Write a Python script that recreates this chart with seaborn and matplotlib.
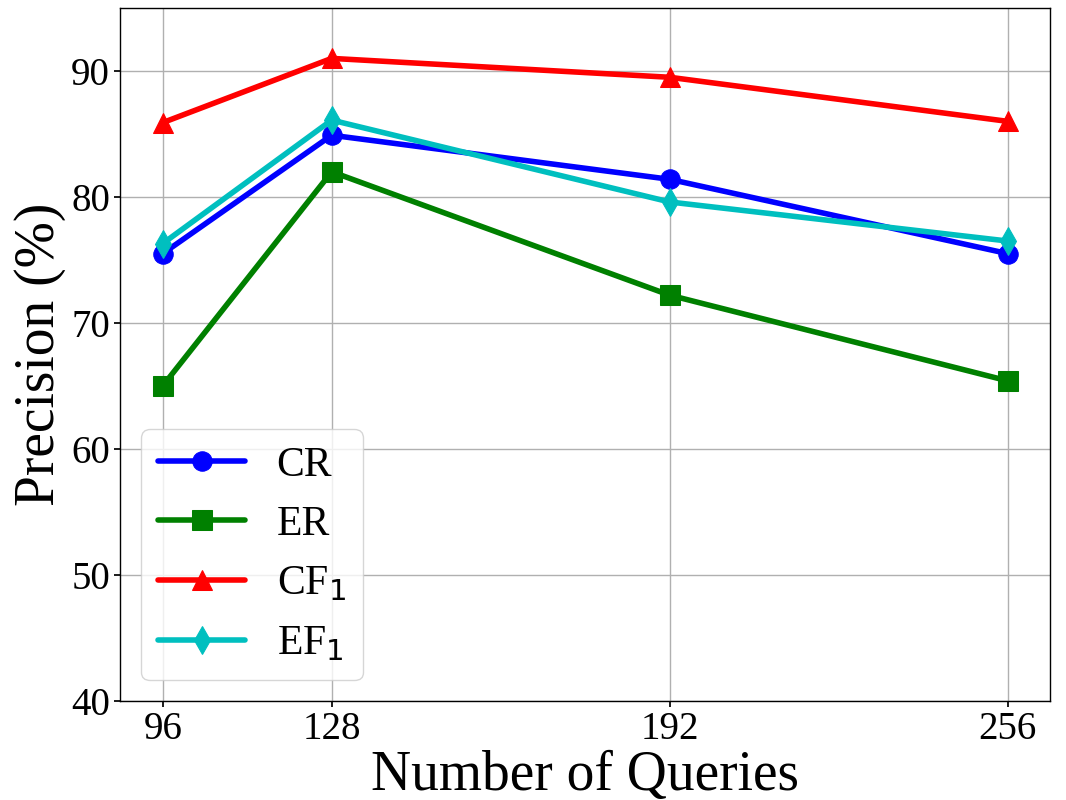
import matplotlib
matplotlib.use("Agg")
import matplotlib.pyplot as plt
import numpy as np
import pandas as pd
import seaborn as sns

queries = [96, 128, 192, 256]
cr = [75.5, 84.9, 81.4, 75.5]
er = [65.0, 82.0, 72.2, 65.4]
cf1 = [85.9, 91.0, 89.5, 86.0]
ef1 = [76.3, 86.1, 79.6, 76.5]

series = [
    ("CR", cr, "#0000ff", "o"),
    ("ER", er, "#008000", "s"),
    (r"CF$_1$", cf1, "#ff0000", "^"),
    (r"EF$_1$", ef1, "#00bfbf", "d"),
]

sns.set_theme(style="ticks", context="notebook")
plt.rcParams["font.family"] = ["Liberation Serif", "DejaVu Serif"]
plt.rcParams["mathtext.fontset"] = "dejavusans"
plt.rcParams["text.color"] = "black"
plt.rcParams["xtick.color"] = "black"
plt.rcParams["ytick.color"] = "black"
plt.rcParams["axes.labelcolor"] = "black"

fig, ax = plt.subplots(figsize=(10.66, 8), dpi=100)

for name, vals, color, marker in series:
    df = pd.DataFrame({"Queries": queries, "Precision": vals})
    sns.lineplot(data=df, x="Queries", y="Precision", ax=ax, color=color,
                 marker=marker, markersize=14, markeredgecolor=color,
                 linewidth=4, label=name)

ax.set_xticks(queries)
ax.set_ylim(40, 95)
ax.set_yticks(np.arange(40, 91, 10))
ax.grid(True, color="#b0b0b0", linewidth=1)
ax.tick_params(labelsize=28, direction="out", length=4, color="black")
for s in ax.spines.values():
    s.set_color("black")
    s.set_linewidth(1)
ax.set_xlabel("Number of Queries", fontsize=40, labelpad=1)
ax.set_ylabel("Precision (%)", fontsize=40)
ax.legend(loc="lower left", fontsize=30, handlelength=2.1, handletextpad=0.75)

fig.subplots_adjust(left=0.113, right=0.985, top=0.99, bottom=0.124)
fig.savefig("out.png", dpi=100)
